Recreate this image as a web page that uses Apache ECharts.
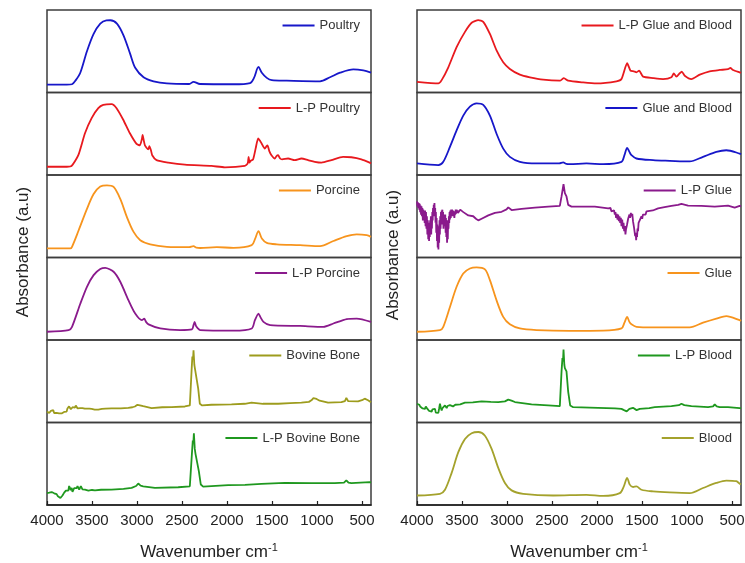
<!DOCTYPE html>
<html><head><meta charset="utf-8">
<script src="https://cdn.jsdelivr.net/npm/echarts@6/dist/echarts.min.js"></script>
<style>html,body{margin:0;padding:0;background:#fff}#c{width:745px;height:563px}</style>
</head><body><div id="c"></div>
<script>
// ---- DATA: [wavenumber cm-1, absorbance a.u. (0-100 per sub-panel)] ----
const xTicks = [4000, 3500, 3000, 2500, 2000, 1500, 1000, 500];

const poultry = [[4000,9.5],[3780,9.5],[3722,10],[3680,15],[3630,24],[3556,50],[3482,71],[3408,83.5],[3340,87.4],[3297,87.6],[3223,83.5],[3149,69],[3075,46.5],[3020,30],[2927,18.5],[2816,13.6],[2668,11],[2420,10.3],[2372,13],[2300,10.3],[1928,10],[1743,11.5],[1700,17.7],[1650,31],[1613,24],[1558,17.7],[1502,15],[1336,14.4],[966,13.6],[855,18.5],[744,24],[596,28],[485,26.7],[400,24]];

const lpPoultry = [[4000,10],[3780,10],[3726,11],[3652,24],[3578,50.6],[3504,69],[3430,81],[3375,85],[3282,86],[3227,81],[3153,67],[3079,50.6],[3005,37.7],[2968,36],[2945,44],[2938,48.6],[2925,42],[2912,36],[2875,31],[2862,35],[2857,35],[2845,30],[2831,24],[2783,18],[2653,15],[2468,12.5],[2172,11],[2024,9.3],[1802,11],[1770,14],[1760,22],[1750,15],[1740,17],[1710,19],[1680,33],[1654,44.5],[1630,41],[1617,38.5],[1580,32],[1560,35],[1550,36],[1530,29],[1506,24],[1469,20],[1450,23],[1432,24],[1410,20],[1388,19],[1321,20],[1247,18],[1173,20],[1099,18],[1025,16],[951,15],[840,18],[711,22],[618,21.5],[507,19],[415,15],[400,14]];

const porcine = [[4000,11],[3741,11],[3722,13],[3648,33],[3556,59],[3482,77],[3408,86],[3334,87.5],[3260,85.5],[3186,71],[3112,49],[3038,31],[2964,21],[2853,16],[2668,13],[2420,12.5],[2372,13.7],[2340,12],[2298,11.5],[2113,12.5],[1928,11.7],[1725,15],[1687,23],[1650,32],[1613,23],[1558,17.7],[1447,16],[1188,15],[966,13.7],[818,20],[670,25.8],[559,28],[448,27],[400,25]];

const lpPorcine = [[4000,10],[3760,12],[3722,16],[3630,44],[3556,64.5],[3482,78.6],[3408,86],[3353,87.5],[3260,82.7],[3186,70.6],[3094,48],[3020,32],[2946,24],[2920,26],[2900,22],[2872,19],[2742,14],[2520,12],[2390,12.8],[2372,18],[2360,22],[2345,17],[2324,14],[2298,12],[1928,11.3],[1725,14],[1690,24],[1650,32],[1630,28],[1595,22],[1521,18],[1188,17],[929,16],[818,20],[670,25.4],[559,26],[400,22]];

const bovineBone = [[4000,13.2],[3992,11],[3985,13],[3976,11.5],[3967,11.6],[3958,14],[3950,12.5],[3940,15.5],[3930,14.9],[3921,11.5],[3912,12.5],[3902,10.8],[3893,11.6],[3884,14],[3875,13.8],[3866,11],[3856,13.2],[3846,10.5],[3838,11],[3828,8.8],[3819,9.9],[3810,12.8],[3800,12.5],[3791,14.5],[3782,13.2],[3773,17],[3765,16],[3755,19.5],[3745,18.6],[3735,16],[3725,15.5],[3716,18.5],[3708,16.5],[3699,19],[3690,18],[3680,20.5],[3671,19.4],[3660,17],[3650,16.5],[3642,18.5],[3634,17.4],[3624,19.5],[3615,19],[3606,17.5],[3597,18.6],[3588,16.5],[3580,16.8],[3570,15.2],[3560,15.7],[3530,16.8],[3504,16.5],[3470,15.5],[3430,15.7],[3390,16.5],[3350,16.8],[3282,17],[3180,17.2],[3097,17.8],[3050,18.5],[3023,19.4],[2995,21.5],[2979,22.7],[2955,20.5],[2931,19.8],[2838,17.4],[2720,18.5],[2616,18.6],[2468,19.4],[2413,20.7],[2394,62],[2385,80],[2378,76],[2372,87.6],[2363,70],[2357,66],[2339,64],[2320,41],[2302,22.7],[2276,20.7],[2172,21.5],[1950,21.9],[1802,22.7],[1728,24],[1600,22.7],[1432,22.7],[1300,23.5],[1173,24],[1090,25],[1062,26.9],[1040,29.5],[1025,31],[1005,28.5],[970,26.4],[877,24],[729,24.8],[690,26],[674,29.8],[655,26],[637,25.6],[544,25.6],[500,27],[470,28.9],[450,28],[433,26.9],[400,24.5]];

const lpBovineBone = [[4000,14.5],[3988,15.8],[3975,15],[3962,16.3],[3948,15.7],[3934,13.5],[3920,14.2],[3906,12.2],[3893,13.2],[3879,10.5],[3865,11.5],[3851,8.5],[3837,9.1],[3828,11.5],[3818,12],[3809,15],[3800,14.5],[3790,17.5],[3780,16],[3772,19],[3763,17.4],[3754,23],[3745,21],[3736,18],[3726,20.7],[3717,16],[3708,17.5],[3698,20.5],[3689,18.6],[3680,21.5],[3670,20.5],[3661,23],[3652,21.5],[3642,18.5],[3632,19.5],[3624,23],[3615,22.3],[3606,19],[3597,20],[3588,18],[3578,18.6],[3540,17.5],[3500,18.2],[3467,17.8],[3400,18.5],[3282,18.6],[3150,19.5],[3060,20.7],[3010,23],[2986,26],[2960,23.5],[2931,22.7],[2801,20.7],[2542,21.5],[2413,22.7],[2390,62],[2380,78],[2374,75],[2368,86.8],[2358,68],[2350,62],[2331,64],[2313,41],[2291,24.8],[2265,22.3],[1987,24],[1800,24.5],[1617,25.6],[1358,26.9],[1062,26.4],[803,26.4],[700,27],[674,29.8],[650,27],[618,26.4],[415,27.7],[400,27.5]];

const lpGlueBlood = [[4000,13],[3763,11],[3726,15],[3652,30.6],[3560,55],[3467,73.5],[3393,84.5],[3319,87.8],[3264,85.7],[3190,71],[3116,51],[3042,36.7],[2968,28.6],[2857,21.6],[2746,18.4],[2598,15.5],[2413,14.3],[2368,17.5],[2320,14.3],[2154,12.2],[2006,11],[1784,13.5],[1728,16.3],[1665,35.5],[1628,26.5],[1591,25.7],[1562,24.5],[1532,26.5],[1488,19.2],[1377,17.5],[1266,16.3],[1173,18.4],[1147,23.3],[1118,19.2],[1081,23.3],[1058,25.3],[1025,20.4],[951,16.3],[858,21.6],[748,25.7],[637,27.3],[544,28.2],[518,29.8],[489,27.3],[415,24.5],[400,24]];

const glueBlood = [[4000,14],[3763,12],[3708,16],[3634,34],[3560,54],[3486,72],[3412,82.8],[3338,86.8],[3264,85],[3190,72],[3116,50],[3042,32],[2968,22],[2857,16],[2672,14],[2420,14],[2376,15.2],[2340,13.5],[2302,13.2],[2117,14],[1932,13.2],[1728,16],[1695,24],[1665,33],[1640,28],[1617,24],[1562,20],[1377,18],[1192,17.2],[970,16.4],[822,22],[674,28],[563,30],[415,26],[400,25]];

const lpGlue = [[4000,68],[3995,62],[3990,67],[3985,60],[3980,66],[3975,58],[3970,65],[3965,55],[3960,63],[3955,52],[3950,62],[3945,50],[3940,60],[3935,45],[3930,58],[3925,48],[3920,56],[3915,42],[3910,57],[3905,38],[3900,55],[3895,35],[3890,50],[3885,28],[3880,45],[3875,22],[3870,40],[3866,20],[3862,42],[3858,25],[3854,45],[3850,32],[3846,50],[3842,28],[3838,48],[3834,35],[3830,55],[3826,45],[3822,60],[3818,50],[3814,64],[3810,55],[3806,66],[3802,50],[3798,60],[3794,42],[3790,55],[3786,30],[3782,48],[3778,20],[3774,40],[3770,12],[3766,35],[3762,9.6],[3758,38],[3754,18],[3750,45],[3746,28],[3742,50],[3738,35],[3734,55],[3730,40],[3726,57],[3722,45],[3718,58],[3714,40],[3710,55],[3706,35],[3702,52],[3698,38],[3694,50],[3690,42],[3686,52],[3682,30],[3678,48],[3674,25],[3670,45],[3666,18],[3662,40],[3658,22],[3654,45],[3650,35],[3646,50],[3642,42],[3638,55],[3634,46],[3630,57],[3625,48],[3620,58],[3615,50],[3610,58],[3605,52],[3600,57],[3595,50],[3590,56],[3585,48],[3580,55],[3575,52],[3570,58],[3565,53],[3560,58],[3555,54],[3550,57],[3545,54],[3540,56],[3530,55],[3520,58],[3504,56.7],[3485,55],[3467,54],[3430,51],[3375,50],[3345,47],[3319,45],[3282,47],[3208,51],[3134,54],[3060,55.4],[3005,58.3],[2986,60.8],[2949,57.5],[2838,59],[2690,60.4],[2542,61.7],[2413,62.5],[2394,74],[2372,88.8],[2357,78],[2339,74],[2320,63.8],[2283,61.7],[2172,61.7],[2024,61.7],[1876,59.6],[1860,58],[1850,60],[1840,56],[1830,58],[1820,54],[1810,57],[1802,52],[1795,55],[1788,48],[1780,53],[1772,46],[1765,52],[1757,44],[1750,50],[1742,42],[1735,48],[1728,38],[1720,46],[1712,35],[1705,42],[1698,32],[1690,38],[1684,28],[1678,34],[1672,32],[1666,40],[1660,38],[1654,47],[1646,45],[1640,52],[1632,48],[1624,54],[1616,50],[1608,53],[1600,44],[1594,46],[1588,36],[1582,38],[1576,26],[1570,30],[1565,21],[1560,30],[1555,25],[1550,35],[1544,32],[1538,42],[1530,40],[1522,46],[1514,44],[1506,50],[1498,47],[1490,52],[1480,50],[1470,54],[1460,52],[1450,56],[1432,55.4],[1380,57],[1321,59.6],[1250,61],[1173,62.5],[1099,63.8],[1062,65],[988,63],[840,62.5],[692,61.7],[544,63],[470,60.4],[415,62.5],[400,62]];

const glue = [[4000,10],[3745,12],[3708,16],[3634,40],[3560,64.5],[3486,80.6],[3412,86.7],[3338,88],[3245,85.5],[3190,72.6],[3116,48],[3042,28],[2968,19],[2857,14],[2672,12],[2302,11],[1932,11.3],[1728,14],[1695,21],[1665,28],[1640,22],[1617,19],[1562,16],[1377,15.3],[970,15.3],[822,21],[674,26],[563,29],[415,24],[400,23]];

const lpBlood = [[4000,22.7],[3988,20.5],[3975,21.5],[3962,19],[3948,20.7],[3938,17],[3930,18],[3920,15.5],[3911,16.5],[3902,19.5],[3893,19.5],[3884,16.5],[3874,18.6],[3865,14],[3855,15],[3846,12.5],[3837,13.2],[3828,16],[3818,18],[3809,14.5],[3800,16.5],[3791,12],[3782,13.5],[3772,10.5],[3763,11.6],[3754,17],[3745,22.7],[3735,18],[3726,14.5],[3717,17.5],[3708,19],[3698,16.5],[3689,20.7],[3680,18.5],[3670,17.5],[3661,20],[3652,18.6],[3642,21.5],[3634,21],[3624,19],[3615,21.5],[3600,19.5],[3590,20],[3575,21.5],[3560,20.7],[3520,22],[3467,24],[3380,24.5],[3282,25.6],[3180,25],[3097,24.8],[3023,25.6],[2986,27.7],[2950,26.5],[2912,24.8],[2727,21.9],[2542,20.7],[2413,19.8],[2394,62],[2384,78],[2378,74],[2372,88.4],[2363,70],[2357,66],[2339,62],[2320,37],[2298,20.7],[2265,18.6],[1987,17.8],[1800,17],[1728,16.5],[1700,15],[1690,15.5],[1670,13.5],[1654,14.5],[1640,16.5],[1620,16],[1600,17.8],[1580,17.4],[1560,15],[1545,14.5],[1525,16.5],[1506,15.7],[1420,17.5],[1358,18.6],[1173,19.8],[1090,21],[1062,22.7],[1030,21],[951,19.8],[766,18.6],[710,19.5],[692,22],[670,19.5],[637,18.6],[544,18.6],[415,17.4],[400,17.4]];

const blood = [[4000,11.5],[3745,13.6],[3689,18.5],[3615,39],[3541,64],[3467,80],[3393,87],[3319,88.5],[3245,84],[3171,68],[3097,45],[3023,26.7],[2949,17.7],[2820,13.6],[2487,11.5],[2117,12.3],[1932,11],[1747,14.4],[1702,22.6],[1665,33],[1636,24.7],[1599,21.8],[1562,22.6],[1506,18.5],[1377,16.5],[1192,15.2],[970,14.4],[822,20.6],[674,26.7],[563,29.6],[452,28.8],[415,25.9],[400,25]];

// ---- LAYOUT / STYLE ----
const FONT = 'Arial, "Liberation Sans", sans-serif';
const C = {blue:'#1717c9', red:'#e8191e', orange:'#f7941d', purple:'#8a1a8c', olive:'#9d9c1d', olive2:'#a4a22c', green:'#1f981f'};
const panels = [
  {name:'Poultry', data:poultry, color:C.blue, col:0, row:0, smooth:0.3},
  {name:'L-P Poultry', data:lpPoultry, color:C.red, col:0, row:1, smooth:0.2},
  {name:'Porcine', data:porcine, color:C.orange, col:0, row:2, smooth:0.3},
  {name:'L-P Porcine', data:lpPorcine, color:C.purple, col:0, row:3, smooth:0.25},
  {name:'Bovine Bone', data:bovineBone, color:C.olive, col:0, row:4, smooth:false},
  {name:'L-P Bovine Bone', data:lpBovineBone, color:C.green, col:0, row:5, smooth:false},
  {name:'L-P Glue and Blood', data:lpGlueBlood, color:C.red, col:1, row:0, smooth:0.2},
  {name:'Glue and Blood', data:glueBlood, color:C.blue, col:1, row:1, smooth:0.3},
  {name:'L-P Glue', data:lpGlue, color:C.purple, col:1, row:2, smooth:false},
  {name:'Glue', data:glue, color:C.orange, col:1, row:3, smooth:0.3},
  {name:'L-P Blood', data:lpBlood, color:C.green, col:1, row:4, smooth:false},
  {name:'Blood', data:blood, color:C.olive2, col:1, row:5, smooth:0.3}
];
const TOP = 10, PH = 82.5;
const colLeft = [47, 417], colW = 324;
const legendRight = [385, 13];

const grids = [], xAxes = [], yAxes = [], series = [], legends = [];
panels.forEach((p, i) => {
  const top = TOP + p.row * PH;
  grids.push({left: colLeft[p.col], top: top, width: colW, height: PH,
    show: true, borderColor: '#3c3c3c', borderWidth: 1.5, containLabel: false, outerBoundsMode: 'none'});
  const bottom = p.row === 5;
  xAxes.push({type: 'value', gridIndex: i, min: 400, max: 4000, inverse: true,
    splitLine: {show: false},
    axisLine: {show: bottom, onZero: false, lineStyle: {color: '#1e1e1e', width: 1.5}},
    axisTick: {show: bottom, inside: true, length: 4, customValues: xTicks, lineStyle: {color: '#1e1e1e', width: 1.2}},
    axisLabel: {show: bottom, customValues: xTicks, margin: 8, fontSize: 15, color: '#222', fontFamily: FONT,
      formatter: v => String(v)},
    name: bottom ? '{a|Wavenumber cm}{b|-1}' : '', nameLocation: 'middle', nameGap: 37,
    nameTextStyle: {rich: {a: {fontSize: 17, color: '#222', fontFamily: FONT}, b: {fontSize: 11, color: '#222', fontFamily: FONT, padding: [0, 0, 10, 0]}}}
  });
  yAxes.push({type: 'value', gridIndex: i, min: 0, max: 100, show: false});
  series.push({name: p.name, type: 'line', xAxisIndex: i, yAxisIndex: i, data: p.data,
    showSymbol: false, symbol: 'none', smooth: p.smooth, color: p.color,
    lineStyle: {width: 1.8, color: p.color}, silent: true});
  legends.push({data: [p.name], right: legendRight[p.col], top: top + 9, icon: 'rect',
    itemWidth: 32, itemHeight: 2, itemGap: 4, padding: 0,
    textStyle: {fontSize: 13, color: '#333', fontFamily: FONT}, selectedMode: false});
});

const chart = echarts.init(document.getElementById('c'), null, {renderer: 'canvas'});
chart.setOption({
  animation: false,
  backgroundColor: '#fff',
  grid: grids, xAxis: xAxes, yAxis: yAxes, series: series, legend: legends,
  graphic: [
    {type: 'text', x: 23, y: 252, rotation: Math.PI / 2,
      style: {text: 'Absorbance (a.u)', font: '17px ' + FONT, fill: '#222', align: 'center', verticalAlign: 'middle'}},
    {type: 'text', x: 393, y: 255, rotation: Math.PI / 2,
      style: {text: 'Absorbance (a.u)', font: '17px ' + FONT, fill: '#222', align: 'center', verticalAlign: 'middle'}}
  ]
});
</script></body></html>
